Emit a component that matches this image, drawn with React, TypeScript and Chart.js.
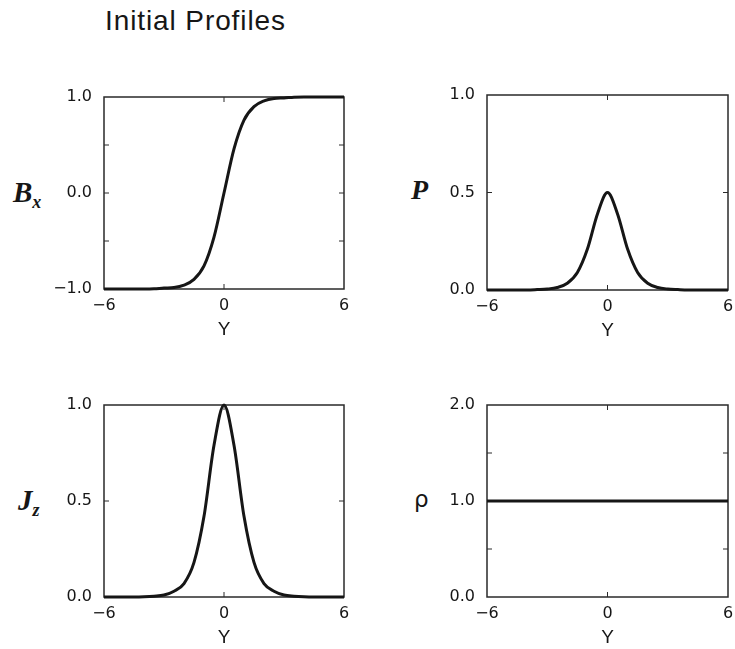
import React, { useEffect, useRef } from 'react';
import { Chart, registerables } from 'chart.js';

Chart.register(...registerables);

// ---- data ----
const yPositions = [-6, -5.5, -5, -4.5, -4, -3.5, -3, -2.5, -2, -1.5, -1, -0.5, 0, 0.5, 1, 1.5, 2, 2.5, 3, 3.5, 4, 4.5, 5, 5.5, 6];
const bxValues = [-1, -1, -1, -1, -1, -0.998, -0.99, -0.985, -0.96, -0.9, -0.76, -0.46, 0, 0.46, 0.76, 0.9, 0.96, 0.985, 0.99, 0.998, 1, 1, 1, 1, 1];
const pValues = [0, 0, 0, 0, 0, 0.002, 0.005, 0.013, 0.035, 0.09, 0.21, 0.39, 0.5, 0.39, 0.21, 0.09, 0.035, 0.013, 0.005, 0.002, 0, 0, 0, 0, 0];
const jzValues = [0, 0, 0, 0, 0.001, 0.004, 0.01, 0.03, 0.07, 0.18, 0.42, 0.79, 1, 0.79, 0.42, 0.18, 0.07, 0.03, 0.01, 0.004, 0.001, 0, 0, 0, 0];
const rhoValues = [1, 1, 1, 1, 1, 1, 1, 1, 1, 1, 1, 1, 1, 1, 1, 1, 1, 1, 1, 1, 1, 1, 1, 1, 1];

const xTickValues = [-6, 0, 6];
const bxLabelledTicks = [-1, 0, 1];
const pLabelledTicks = [0, 0.5, 1];
const jzLabelledTicks = [0, 0.5, 1];
const rhoLabelledTicks = [0, 1, 2];

const titleText = 'Initial Profiles';
const xAxisTitle = 'Y';

const INK = '#161616';
const TICK_FONT = { family: '"DejaVu Sans", sans-serif', size: 16 };

type PanelCfg = {
  values: number[];
  yMin: number;
  yMax: number;
  yStep: number;
  labelled: number[];
  L: number; R: number; T: number; B: number;
};

const fmt = (v: number) => {
  const s = Math.abs(v).toFixed(1);
  return v < 0 ? '\u2212' + s : s;
};
const fmtX = (v: number) => (v < 0 ? '\u2212' + Math.abs(v) : String(v));

const framePlugin = {
  id: 'frameTicks',
  beforeDatasetsDraw(chart: any) {
    const { ctx, chartArea } = chart;
    const { left, right, top, bottom } = chartArea;
    ctx.save();
    ctx.strokeStyle = '#2a2a2a';
    ctx.lineWidth = 1.5;
    ctx.strokeRect(left, top, right - left, bottom - top);
    ctx.lineWidth = 1;
    const ys = chart.scales.y;
    const xs = chart.scales.x;
    const len = 5;
    ys.ticks.forEach((t: any) => {
      if (t.value <= ys.min || t.value >= ys.max) return;
      const py = ys.getPixelForValue(t.value);
      ctx.beginPath();
      ctx.moveTo(left, py); ctx.lineTo(left + len, py);
      ctx.moveTo(right, py); ctx.lineTo(right - len, py);
      ctx.stroke();
    });
    xs.ticks.forEach((t: any) => {
      if (t.value <= xs.min || t.value >= xs.max) return;
      const px = xs.getPixelForValue(t.value);
      ctx.beginPath();
      ctx.moveTo(px, bottom); ctx.lineTo(px, bottom - len);
      ctx.moveTo(px, top); ctx.lineTo(px, top + len);
      ctx.stroke();
    });
    ctx.restore();
  },
};

const Y_AXIS_W = 54;
const X_AXIS_H = 52;
const PAD_TOP = 12;
const PAD_RIGHT = 8;

function Panel({ cfg }: { cfg: PanelCfg }) {
  const ref = useRef<HTMLCanvasElement | null>(null);
  const w = cfg.R - cfg.L + Y_AXIS_W + PAD_RIGHT;
  const h = cfg.B - cfg.T + PAD_TOP + X_AXIS_H;
  useEffect(() => {
    const chart = new Chart(ref.current as HTMLCanvasElement, {
      type: 'line',
      data: {
        datasets: [
          {
            data: yPositions.map((x, i) => ({ x, y: cfg.values[i] })),
            borderColor: INK,
            borderWidth: 3,
            pointRadius: 0,
            cubicInterpolationMode: 'monotone',
            clip: false as any,
          },
        ],
      },
      options: {
        animation: false,
        responsive: false,
        devicePixelRatio: 1,
        layout: { padding: { top: PAD_TOP, right: PAD_RIGHT, left: 0, bottom: 0 } },
        plugins: { legend: { display: false }, tooltip: { enabled: false }, title: { display: false } },
        scales: {
          x: {
            type: 'linear',
            min: -6,
            max: 6,
            grid: { display: false, drawTicks: false },
            border: { display: false },
            afterBuildTicks: (axis: any) => {
              axis.ticks = xTickValues.map((v) => ({ value: v }));
            },
            afterFit: (s: any) => {
              s.height = X_AXIS_H;
              s.paddingLeft = 0;
              s.paddingRight = 0;
            },
            ticks: {
              autoSkip: false,
              maxRotation: 0,
              padding: 7,
              color: INK,
              font: TICK_FONT,
              callback: (v: any) => fmtX(Number(v)),
            },
            title: {
              display: true,
              text: xAxisTitle,
              color: INK,
              font: { family: '"Liberation Sans", Arial, sans-serif', size: 19 },
              padding: { top: 0, bottom: 0 },
            },
          },
          y: {
            type: 'linear',
            min: cfg.yMin,
            max: cfg.yMax,
            grid: { display: false, drawTicks: false },
            border: { display: false },
            afterFit: (s: any) => {
              s.width = Y_AXIS_W;
              s.paddingTop = 0;
              s.paddingBottom = 0;
            },
            ticks: {
              stepSize: cfg.yStep,
              autoSkip: false,
              padding: 12,
              color: INK,
              font: TICK_FONT,
              callback: (v: any) => {
                const n = Number(v);
                return cfg.labelled.some((l) => Math.abs(l - n) < 1e-6) ? fmt(n) : '';
              },
            },
          },
        },
      },
      plugins: [framePlugin],
    } as any);
    return () => chart.destroy();
  }, []);
  return (
    <canvas
      ref={ref}
      width={w}
      height={h}
      style={{ position: 'absolute', left: cfg.L - Y_AXIS_W, top: cfg.T - PAD_TOP, width: w, height: h }}
    />
  );
}

const panels: PanelCfg[] = [
  { values: bxValues, yMin: -1, yMax: 1, yStep: 0.5, labelled: bxLabelledTicks, L: 104, R: 344, T: 97, B: 289 },
  { values: pValues, yMin: 0, yMax: 1, yStep: 0.5, labelled: pLabelledTicks, L: 487, R: 728, T: 95, B: 290 },
  { values: jzValues, yMin: 0, yMax: 1, yStep: 0.5, labelled: jzLabelledTicks, L: 104, R: 344, T: 405, B: 597 },
  { values: rhoValues, yMin: 0, yMax: 2, yStep: 0.5, labelled: rhoLabelledTicks, L: 487, R: 728, T: 405, B: 597 },
];

const serifBI: React.CSSProperties = {
  fontFamily: '"Liberation Serif", "Times New Roman", serif',
  fontWeight: 'bold',
  fontStyle: 'italic',
  color: INK,
};

function AxisLabel({ left, cy, children, style }: { left: number; cy: number; children: React.ReactNode; style?: React.CSSProperties }) {
  return (
    <div style={{ position: 'absolute', left, top: cy, transform: 'translateY(-50%)', lineHeight: 1, whiteSpace: 'nowrap', ...style }}>
      {children}
    </div>
  );
}

export default function App() {
  return (
    <div style={{ position: 'absolute', left: 0, top: 0, width: 735, height: 649, background: '#fff', overflow: 'hidden' }}>
      <div
        style={{
          position: 'absolute',
          left: 105,
          top: 7,
          fontFamily: '"Liberation Sans", Arial, sans-serif',
          fontSize: 28,
          letterSpacing: 0.9,
          lineHeight: 1,
          color: INK,
          whiteSpace: 'nowrap',
        }}
      >
        {titleText}
      </div>
      {panels.map((p, i) => (
        <Panel key={i} cfg={p} />
      ))}
      <AxisLabel left={13} cy={192} style={serifBI}>
        <span style={{ fontSize: 29 }}>B</span>
        <span style={{ fontSize: 18, position: 'relative', top: 6 }}>x</span>
      </AxisLabel>
      <AxisLabel left={411} cy={190} style={serifBI}>
        <span style={{ fontSize: 28 }}>P</span>
      </AxisLabel>
      <AxisLabel left={18} cy={500} style={serifBI}>
        <span style={{ fontSize: 29 }}>J</span>
        <span style={{ fontSize: 18, position: 'relative', top: 6 }}>z</span>
      </AxisLabel>
      <AxisLabel left={414} cy={499} style={{ fontFamily: '"DejaVu Sans", sans-serif', fontSize: 23, color: INK }}>
        ρ
      </AxisLabel>
    </div>
  );
}
